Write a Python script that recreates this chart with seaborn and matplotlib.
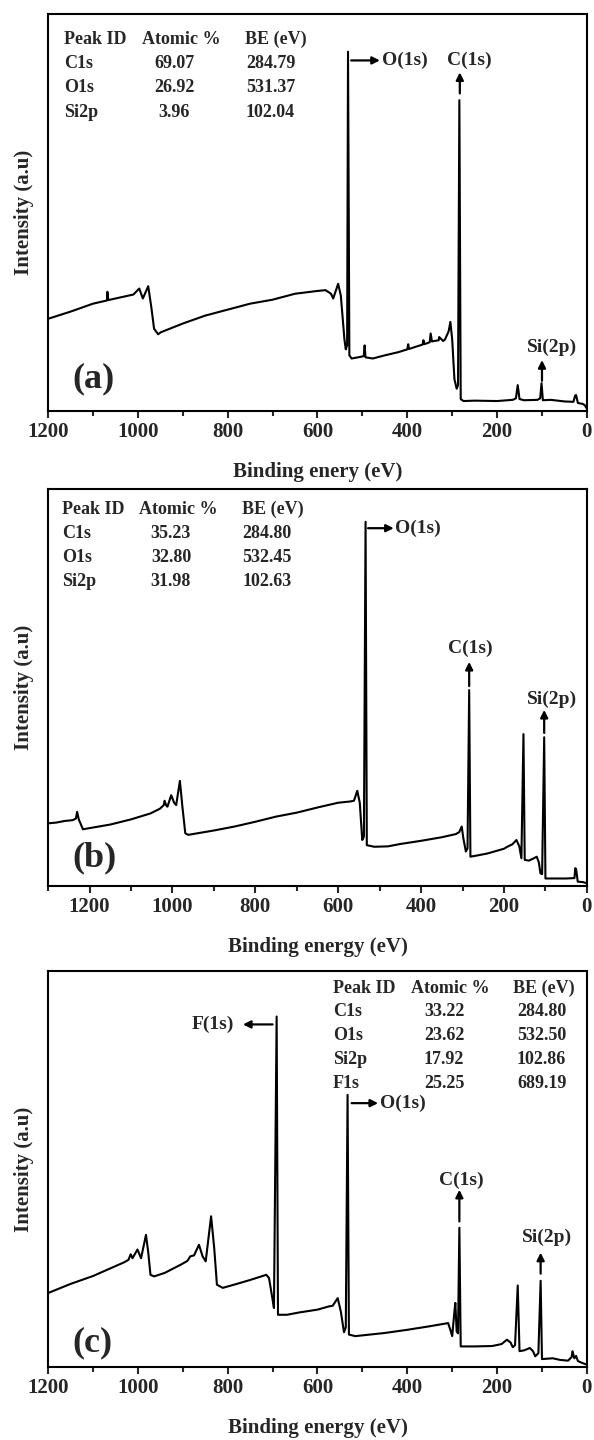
import numpy as np
import pandas as pd
import matplotlib
matplotlib.use("Agg")
import matplotlib.pyplot as plt
from matplotlib.ticker import MultipleLocator
import seaborn as sns

# --- survey spectrum (a) ---
A_BE = [1200, 1150, 1100, 1069, 1068, 1066, 1030, 1010, 997, 989, 977, 970, 964, 955, 949,
        900, 850, 800, 750, 700, 650, 600, 582, 570, 565, 554, 548, 540, 537, 534, 532, 529,
        524, 505, 497, 495, 493, 477, 450, 420, 400, 398, 396, 380, 366, 364, 362, 350, 348,
        345, 330, 329, 320, 316, 308, 304, 300, 295, 290, 287, 284, 281, 275, 250, 200, 165,
        158, 154, 150, 140, 110, 104, 101, 98, 80, 50, 30, 26, 24, 20, 10, 5, 0]
A_INT = [23.2, 25.0, 27.0, 27.8, 30.0, 27.9, 28.8, 29.3, 30.8, 28.3, 31.4, 26.0, 20.7, 19.3, 19.8,
         22.0, 24.0, 25.5, 27.0, 28.0, 29.5, 30.2, 30.4, 29.5, 28.3, 32.0, 29.0, 18.0, 15.5, 16.5, 90.4, 14.0,
         13.2, 13.6, 13.8, 16.5, 13.5, 13.2, 14.0, 14.8, 15.5, 16.8, 15.6, 16.2, 16.7, 17.8, 16.8, 17.3, 19.5,
         17.5, 17.8, 18.6, 17.6, 18.0, 20.0, 22.4, 18.0, 8.0, 5.6, 6.5, 78.2, 3.0, 2.5, 2.6, 2.5, 2.8,
         3.2, 6.5, 3.0, 2.7, 2.8, 3.2, 7.0, 2.7, 2.8, 2.4, 2.3, 3.9, 4.0, 2.0, 1.8, 1.5, 0.6]

# --- survey spectrum (b) ---
B_BE = [1300, 1280, 1260, 1241, 1233, 1230, 1226, 1216, 1200, 1150, 1100, 1053, 1030, 1021, 1019,
        1015, 1012, 1003, 996, 991, 982, 976, 969, 962, 900, 850, 800, 750, 700, 650, 600, 572,
        562, 554, 548, 542, 538, 534, 531, 513, 480, 450, 400, 350, 316, 308, 302, 298, 292, 288,
        284, 281, 270, 240, 200, 192, 180, 170, 163, 158, 153, 150, 140, 128, 121, 116, 112, 108,
        103, 100, 80, 50, 30, 28, 26, 22, 10, 0]
B_INT = [15.8, 16.0, 16.4, 16.6, 17.0, 18.7, 16.8, 14.3, 14.6, 15.5, 16.8, 18.3, 19.5, 20.4, 21.5,
         20.3, 20.0, 22.9, 21.0, 20.4, 26.5, 20.0, 13.3, 12.9, 14.0, 15.0, 16.2, 17.5, 18.5, 19.8, 21.0, 21.3,
         21.5, 24.0, 21.0, 11.6, 12.5, 91.8, 10.3, 9.9, 10.0, 10.6, 11.4, 12.3, 13.1, 13.6, 15.0, 12.0, 8.7, 9.5,
         49.4, 7.4, 7.6, 8.2, 9.4, 9.9, 10.5, 11.6, 10.0, 7.0, 38.3, 6.6, 6.4, 7.0, 7.4, 6.0, 3.2, 3.0,
         37.5, 1.9, 1.9, 1.9, 2.0, 4.5, 4.3, 1.1, 1.0, 0.7]

# --- survey spectrum (c) ---
C_BE = [1200, 1150, 1100, 1050, 1030, 1021, 1016, 1012, 1001, 993, 982, 977, 972, 964, 940, 904,
        890, 883, 875, 864, 856, 849, 837, 830, 824, 811, 780, 750, 714, 708, 700, 697, 691, 688,
        668, 640, 600, 575, 566, 555, 548, 541, 537, 533, 530, 516, 450, 400, 350, 309, 303, 300,
        295, 293, 290, 287, 284, 281, 250, 211, 190, 178, 170, 165, 160, 154, 150, 140, 127, 120,
        115, 108, 103, 100, 76, 60, 42, 34, 32, 28, 24, 20, 10, 0]
C_INT = [18.7, 21.0, 23.0, 25.5, 26.5, 27.1, 28.5, 27.5, 29.7, 27.5, 33.4, 29.0, 23.3, 22.9, 23.8, 25.9,
         26.8, 28.0, 28.2, 30.9, 28.0, 26.7, 38.1, 30.0, 20.8, 20.0, 21.0, 22.0, 23.3, 22.5, 17.0, 14.9, 88.6, 13.2,
         13.2, 13.8, 14.5, 15.3, 15.5, 17.4, 14.0, 8.8, 10.0, 68.8, 8.2, 7.8, 8.6, 9.4, 10.3, 11.1, 9.0, 7.8,
         14.0, 16.2, 9.0, 8.5, 35.2, 5.2, 5.2, 5.3, 5.8, 6.9, 6.2, 5.0, 5.5, 20.6, 4.0, 4.2, 4.8, 4.0,
         2.7, 3.5, 21.8, 2.0, 2.2, 1.8, 1.6, 2.5, 4.0, 2.2, 2.8, 1.5, 1.0, 0.6]

# --- composition tables ---
A_PEAKS = ["C1s", "O1s", "Si2p"]
A_ATOMIC = ["69.07", "26.92", "3.96"]
A_BE_FIT = ["284.79", "531.37", "102.04"]

B_PEAKS = ["C1s", "O1s", "Si2p"]
B_ATOMIC = ["35.23", "32.80", "31.98"]
B_BE_FIT = ["284.80", "532.45", "102.63"]

C_PEAKS = ["C1s", "O1s", "Si2p", "F1s"]
C_ATOMIC = ["33.22", "23.62", "17.92", "25.25"]
C_BE_FIT = ["284.80", "532.50", "102.86", "689.19"]

FONT = ["Liberation Serif", "DejaVu Serif"]


def arrow(ax, tip, base):
    ax.annotate("", xy=tip, xytext=base,
                arrowprops=dict(arrowstyle="-|>", color="black", lw=1.6,
                                mutation_scale=11, shrinkA=0, shrinkB=0))


def draw_table(ax, peaks, atomic, be_fit, cols, y0, dy, be_ha="left"):
    x_id, x_head, x_at, x_be, x_bev = cols
    kw = dict(transform=ax.transAxes, fontsize=13, fontweight="bold", va="center")
    ax.text(x_id, y0, "Peak ID", ha="left", **kw)
    ax.text(x_head, y0, "Atomic %", ha="left", **kw)
    ax.text(x_be, y0, "BE (eV)", ha="left", **kw)
    for i, (p, a, b) in enumerate(zip(peaks, atomic, be_fit)):
        y = y0 - (i + 1) * dy
        ax.text(x_id, y, p, ha="left", **kw)
        ax.text(x_at, y, a, ha="center", **kw)
        ax.text(x_bev, y, b, ha=be_ha, **kw)


def style_axis(ax, xmax, xlabel, tag, tag_xy):
    ax.set_xlim(xmax, 0)
    ax.set_ylim(0, 100)
    ax.set_yticks([])
    ax.xaxis.set_major_locator(MultipleLocator(200))
    ax.xaxis.set_minor_locator(MultipleLocator(100))
    ax.tick_params(axis="x", which="major", direction="out", length=5, width=1.5,
                   labelsize=15, pad=3)
    ax.tick_params(axis="x", which="minor", direction="out", length=3.5, width=1.5)
    for lab in ax.get_xticklabels():
        lab.set_fontweight("bold")
    for sp in ax.spines.values():
        sp.set_visible(True)
        sp.set_linewidth(1.5)
        sp.set_color("black")
    ax.set_xlabel(xlabel, fontsize=15, fontweight="bold", labelpad=14)
    ax.set_ylabel("Intensity (a.u)", fontsize=15, fontweight="bold", labelpad=10)
    ax.text(tag_xy[0], tag_xy[1], tag, transform=ax.transAxes, fontsize=26,
            fontweight="bold", ha="center", va="center")


def spectrum(ax, be, inten):
    df = pd.DataFrame({"be": be, "intensity": inten})
    sns.lineplot(data=df, x="be", y="intensity", ax=ax, color="black",
                 linewidth=1.5, sort=False, estimator=None)


sns.set_style("ticks")
plt.rcParams["font.family"] = FONT
plt.rcParams["mathtext.default"] = "regular"

fig = plt.figure(figsize=(5.94, 14.4), dpi=100)
ax_a = fig.add_axes([0.081, 0.7146, 0.907, 0.2760])
ax_b = fig.add_axes([0.081, 0.3847, 0.907, 0.2755])
ax_c = fig.add_axes([0.081, 0.0507, 0.907, 0.2747])

# panel (a)
spectrum(ax_a, A_BE, A_INT)
style_axis(ax_a, 1200, "Binding enery (eV)", "(a)", (0.085, 0.08))
draw_table(ax_a, A_PEAKS, A_ATOMIC, A_BE_FIT,
           (0.030, 0.174, 0.234, 0.366, 0.367), 0.935, 0.061)
arrow(ax_a, (461, 88.2), (525, 88.2))
ax_a.text(457, 88.2, "O(1s)", fontsize=14, fontweight="bold", ha="left", va="center")
arrow(ax_a, (283, 85.2), (283, 79.9))
ax_a.text(262, 88.3, "C(1s)", fontsize=14, fontweight="bold", ha="center", va="center")
arrow(ax_a, (100, 12.8), (100, 7.6))
ax_a.text(78, 16.0, "Si(2p)", fontsize=14, fontweight="bold", ha="center", va="center")

# panel (b)
spectrum(ax_b, B_BE, B_INT)
style_axis(ax_b, 1300, "Binding energy (eV)", "(b)", (0.087, 0.07))
draw_table(ax_b, B_PEAKS, B_ATOMIC, B_BE_FIT,
           (0.026, 0.169, 0.228, 0.360, 0.361), 0.950, 0.061)
arrow(ax_b, (466, 90.2), (528, 90.2))
ax_b.text(462, 90.2, "O(1s)", fontsize=14, fontweight="bold", ha="left", va="center")
arrow(ax_b, (284, 56.5), (284, 50.4))
ax_b.text(282, 60.0, "C(1s)", fontsize=14, fontweight="bold", ha="center", va="center")
arrow(ax_b, (103, 44.4), (103, 38.6))
ax_b.text(84, 47.0, "Si(2p)", fontsize=14, fontweight="bold", ha="center", va="center")

# panel (c)
spectrum(ax_c, C_BE, C_INT)
style_axis(ax_c, 1200, "Binding energy (eV)", "(c)", (0.083, 0.06))
draw_table(ax_c, C_PEAKS, C_ATOMIC, C_BE_FIT,
           (0.529, 0.673, 0.735, 0.863, 0.916), 0.958, 0.0605, be_ha="center")
arrow(ax_c, (766, 86.6), (700, 86.6))
ax_c.text(786, 86.6, "F(1s)", fontsize=14, fontweight="bold", ha="right", va="center")
arrow(ax_c, (465, 66.7), (524, 66.7))
ax_c.text(461, 66.7, "O(1s)", fontsize=14, fontweight="bold", ha="left", va="center")
arrow(ax_c, (284, 44.8), (284, 36.8))
ax_c.text(280, 47.2, "C(1s)", fontsize=14, fontweight="bold", ha="center", va="center")
arrow(ax_c, (103, 28.9), (103, 23.6))
ax_c.text(89, 32.8, "Si(2p)", fontsize=14, fontweight="bold", ha="center", va="center")

fig.savefig("out.png", dpi=100)
plt.close(fig)
